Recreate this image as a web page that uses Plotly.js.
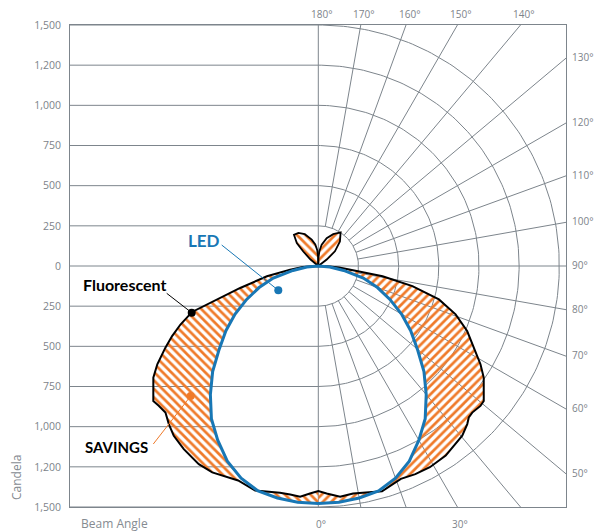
<!DOCTYPE html>
<html><head><meta charset="utf-8">
<script src="https://cdn.plot.ly/plotly-3.0.1.min.js"></script>
<style>html,body{margin:0;padding:0;background:#fff}#chart{width:597px;height:531px}</style>
</head><body><div id="chart"></div>
<script>
// ---- Data (beam angle in degrees: 0 = nadir, 90 = horizontal, 180 = zenith; candela) ----
const fluorLeftAngles  = [90, 88, 86, 82.7, 78.7, 74.3, 71.7, 70, 67, 64.4, 61.9, 58.6, 55.9, 50.7, 48.8, 46.2, 43.4, 40.4, 36.3, 31.1, 27.2, 23.4, 20.5, 15.7, 12.8, 9.6, 7, 4.5, 2.1, 0];
const fluorLeftCd      = [0, 48, 97, 177, 326, 505, 664, 836, 932, 1009, 1079, 1174, 1240, 1327, 1320, 1318, 1354, 1388, 1414, 1440, 1444, 1433, 1425, 1452, 1440, 1432, 1433, 1441, 1417, 1400];
const fluorRightAngles = [90, 88, 86, 83.4, 80.9, 77.9, 74.5, 70.6, 66.4, 61.6, 58.8, 56, 50.8, 49.2, 46.4, 44.8, 43.3, 40.3, 37, 33.9, 29, 25, 21.2, 15.8, 12, 8.7, 5.4, 2.1, 0];
const fluorRightCd     = [0, 70, 130, 194, 405, 599, 779, 906, 1011, 1112, 1180, 1242, 1329, 1333, 1323, 1329, 1352, 1385, 1401, 1422, 1432, 1429, 1421, 1457, 1442, 1433, 1443, 1417, 1400];
const petalLeftAngles  = [127, 130, 134, 137, 142, 149, 157, 166, 172, 176, 179, 180];
const petalLeftCd      = [0, 65, 130, 196, 246, 240, 215, 169, 135, 100, 55, 0];
const petalRightAngles = [126, 127.3, 131.4, 138.7, 146.4, 154.9, 163.3, 171, 176, 179, 180];
const petalRightCd     = [0, 66, 138, 204, 251, 219, 181, 135, 90, 50, 0];
const ledAngles = [0, 5, 10, 15, 20, 25, 30, 35, 40, 45, 50, 55, 60, 65, 70, 75, 80, 85, 90];
const ledCd     = [1478, 1476, 1466, 1450, 1405, 1340, 1252, 1160, 1045, 930, 805, 702, 598, 492, 392, 290, 160, 72, 0];

// ---- Axis / grid labels ----
const yTickVals = [1500, 1250, 1000, 750, 500, 250, 0, -250, -500, -750, -1000, -1250, -1500];
const yTickText = ['1,500', '1,200', '1,000', '750', '500', '250', '0', '250', '500', '750', '1,000', '1,200', '1,500'];
const ringValues = [250, 500, 750, 1000, 1250, 1500];
const radialAngles = [10, 20, 30, 40, 50, 60, 70, 80, 100, 110, 120, 130, 140, 150, 160, 170];
const angleLabels = [0, 30, 50, 60, 70, 80, 90, 100, 110, 120, 130, 140, 150, 160, 170, 180];

// ---- Geometry ----
const W = 597, H = 531;
const M = {l: 70, r: 31, t: 25, b: 24};
const plotW = W - M.l - M.r, plotH = H - M.t - M.b;
const yRange = [-1500, 1500];
const k = plotH / (yRange[1] - yRange[0]);        // px per candela
const cx = 318.3;                                   // pixel x of the origin
const xRange = [-(cx - M.l) / k, (W - M.r - cx) / k];
const X = px => xRange[0] + (px - M.l) / k;
const Y = py => yRange[1] - (py - M.t) / k;
const PX = px => (px - M.l) / plotW;               // paper coords
const PY = py => (H - M.b - py) / plotH;
const D = Math.PI / 180;

const GRID = '#7d858c';
const ORANGE = '#ef7a2a';
const BLUE = '#1877b5';

function polar(angles, cds, side) {
  const xs = [], ys = [];
  for (let i = 0; i < angles.length; i++) {
    xs.push(side * cds[i] * Math.sin(angles[i] * D));
    ys.push(-cds[i] * Math.cos(angles[i] * D));
  }
  return {x: xs, y: ys};
}
function rev(a) { return a.slice().reverse(); }

// ---- Grid ----
const gx = [], gy = [];
ringValues.forEach(r => {
  gx.push(xRange[0], 0, null); gy.push(r, r, null);
  gx.push(xRange[0], 0, null); gy.push(-r, -r, null);
  for (let a = 0; a <= 180; a += 1) { gx.push(r * Math.sin(a * D)); gy.push(-r * Math.cos(a * D)); }
  gx.push(null); gy.push(null);
});
radialAngles.forEach(a => {
  gx.push(250 * Math.sin(a * D), 4000 * Math.sin(a * D), null);
  gy.push(-250 * Math.cos(a * D), -4000 * Math.cos(a * D), null);
});
gx.push(0, 0, null); gy.push(yRange[0], yRange[1], null);
gx.push(xRange[0], xRange[1], null); gy.push(0, 0, null);

const traces = [];
traces.push({x: gx, y: gy, mode: 'lines', line: {color: GRID, width: 1}, hoverinfo: 'skip', connectgaps: false});

// ---- Savings fills ----
const fL = polar(fluorLeftAngles, fluorLeftCd, -1);
const fR = polar(fluorRightAngles, fluorRightCd, 1);
const lL = polar(ledAngles, ledCd, -1);
const lR = polar(ledAngles, ledCd, 1);
function pat(shape) { return {shape: shape, fgcolor: ORANGE, bgcolor: 'rgba(0,0,0,0)', size: 6, solidity: 0.45, fillmode: 'replace'}; }
traces.push({x: fL.x.concat(lL.x), y: fL.y.concat(lL.y), mode: 'lines', fill: 'toself',
  fillcolor: 'rgba(0,0,0,0)', fillpattern: pat('\\'), line: {width: 0, color: 'rgba(0,0,0,0)'}, hoverinfo: 'skip'});
traces.push({x: fR.x.concat(lR.x), y: fR.y.concat(lR.y), mode: 'lines', fill: 'toself',
  fillcolor: 'rgba(0,0,0,0)', fillpattern: pat('/'), line: {width: 0, color: 'rgba(0,0,0,0)'}, hoverinfo: 'skip'});

// ---- Petals ----
const pL = polar(petalLeftAngles, petalLeftCd, -1);
const pR = polar(petalRightAngles, petalRightCd, 1);
traces.push({x: pL.x, y: pL.y, mode: 'lines', fill: 'toself', fillcolor: 'rgba(0,0,0,0)', fillpattern: pat('\\'),
  line: {color: '#000', width: 1.8}, hoverinfo: 'skip'});
traces.push({x: pR.x, y: pR.y, mode: 'lines', fill: 'toself', fillcolor: 'rgba(0,0,0,0)', fillpattern: pat('/'),
  line: {color: '#000', width: 1.8}, hoverinfo: 'skip'});

// ---- Fluorescent outline ----
traces.push({x: fL.x.concat(rev(fR.x)), y: fL.y.concat(rev(fR.y)), mode: 'lines',
  line: {color: '#000', width: 2}, hoverinfo: 'skip'});
// ---- LED outline ----
traces.push({x: lL.x.concat(rev(lR.x)), y: lL.y.concat(rev(lR.y)), mode: 'lines',
  line: {color: BLUE, width: 3}, hoverinfo: 'skip'});

// ---- Callout dots ----
traces.push({x: [X(278.3), X(191.7), X(190.7)], y: [Y(290.3), Y(312.7), Y(396)], mode: 'markers',
  marker: {size: 8, color: [BLUE, '#000', ORANGE]}, hoverinfo: 'skip'});

// ---- Annotations ----
const ann = [];
const labFont = {family: 'Open Sans, sans-serif', size: 10, color: '#7d838a'};
angleLabels.forEach(a => {
  const dx = Math.sin(a * D), dy = -Math.cos(a * D);
  let t = Infinity, side = '';
  if (dx > 1e-9 && xRange[1] / dx < t) { t = xRange[1] / dx; side = 'r'; }
  if (dy > 1e-9 && yRange[1] / dy < t) { t = yRange[1] / dy; side = 't'; }
  if (dy < -1e-9 && yRange[0] / dy < t) { t = yRange[0] / dy; side = 'b'; }
  const px = dx * t, py = dy * t;
  const txt = a + '°';
  if (side === 'r') ann.push({x: xRange[1], y: py, text: txt, showarrow: false, xanchor: 'left', yanchor: 'middle', xshift: 4, yshift: 1, font: labFont});
  else if (side === 't') ann.push({x: px, y: yRange[1], text: txt, showarrow: false, xanchor: 'center', yanchor: 'bottom', xshift: 3, yshift: 2, font: labFont});
  else ann.push({x: px, y: yRange[0], text: txt, showarrow: false, xanchor: 'center', yanchor: 'top', xshift: 3, yshift: -8, font: labFont});
});
const axFont = {family: 'Open Sans, sans-serif', size: 12, color: '#858b91'};
ann.push({xref: 'paper', yref: 'paper', x: PX(79), y: PY(523), text: 'Beam Angle', showarrow: false, xanchor: 'left', yanchor: 'middle', font: axFont});
ann.push({xref: 'paper', yref: 'paper', x: PX(16), y: PY(478), text: 'Candela', showarrow: false, textangle: -90, xanchor: 'center', yanchor: 'middle', font: axFont});
const boldFont = (c, s) => ({family: 'Lato, sans-serif', size: s, color: c, weight: 'bold'});
ann.push({x: X(204), y: Y(240), text: '<b>LED</b>', showarrow: false, xanchor: 'center', yanchor: 'middle', font: boldFont(BLUE, 17)});
ann.push({x: X(124), y: Y(284), text: '<b>Fluorescent</b>', showarrow: false, xanchor: 'center', yanchor: 'middle', font: boldFont('#000', 16)});
ann.push({x: X(116), y: Y(447), text: '<b>SAVINGS</b>', showarrow: false, xanchor: 'center', yanchor: 'middle', font: boldFont('#000', 15)});

const shapes = [
  {type: 'line', x0: X(221.7), y0: Y(245), x1: X(278.3), y1: Y(290.3), line: {color: BLUE, width: 1}},
  {type: 'line', x0: X(166.7), y0: Y(293.3), x1: X(191.7), y1: Y(312.7), line: {color: '#000', width: 1}},
  {type: 'line', x0: X(153.3), y0: Y(444), x1: X(190.7), y1: Y(396), line: {color: ORANGE, width: 1}}
];

const layout = {
  width: W, height: H,
  margin: M,
  paper_bgcolor: '#fff', plot_bgcolor: '#fff',
  showlegend: false, hovermode: false,
  font: {family: 'Open Sans, sans-serif', color: '#7d838a'},
  xaxis: {range: xRange, showgrid: false, zeroline: false, showticklabels: false, ticks: '',
    showline: true, mirror: true, linecolor: GRID, linewidth: 1, fixedrange: true},
  yaxis: {range: yRange, showgrid: false, zeroline: false, tickvals: yTickVals, ticktext: yTickText, ticks: '',
    ticklabelstandoff: 6, tickfont: {family: 'Open Sans, sans-serif', size: 10.5, color: '#7d838a'},
    showline: true, mirror: true, linecolor: GRID, linewidth: 1, fixedrange: true},
  annotations: ann,
  shapes: shapes
};
Plotly.newPlot('chart', traces, layout, {displayModeBar: false, staticPlot: true});
</script>
</body></html>
